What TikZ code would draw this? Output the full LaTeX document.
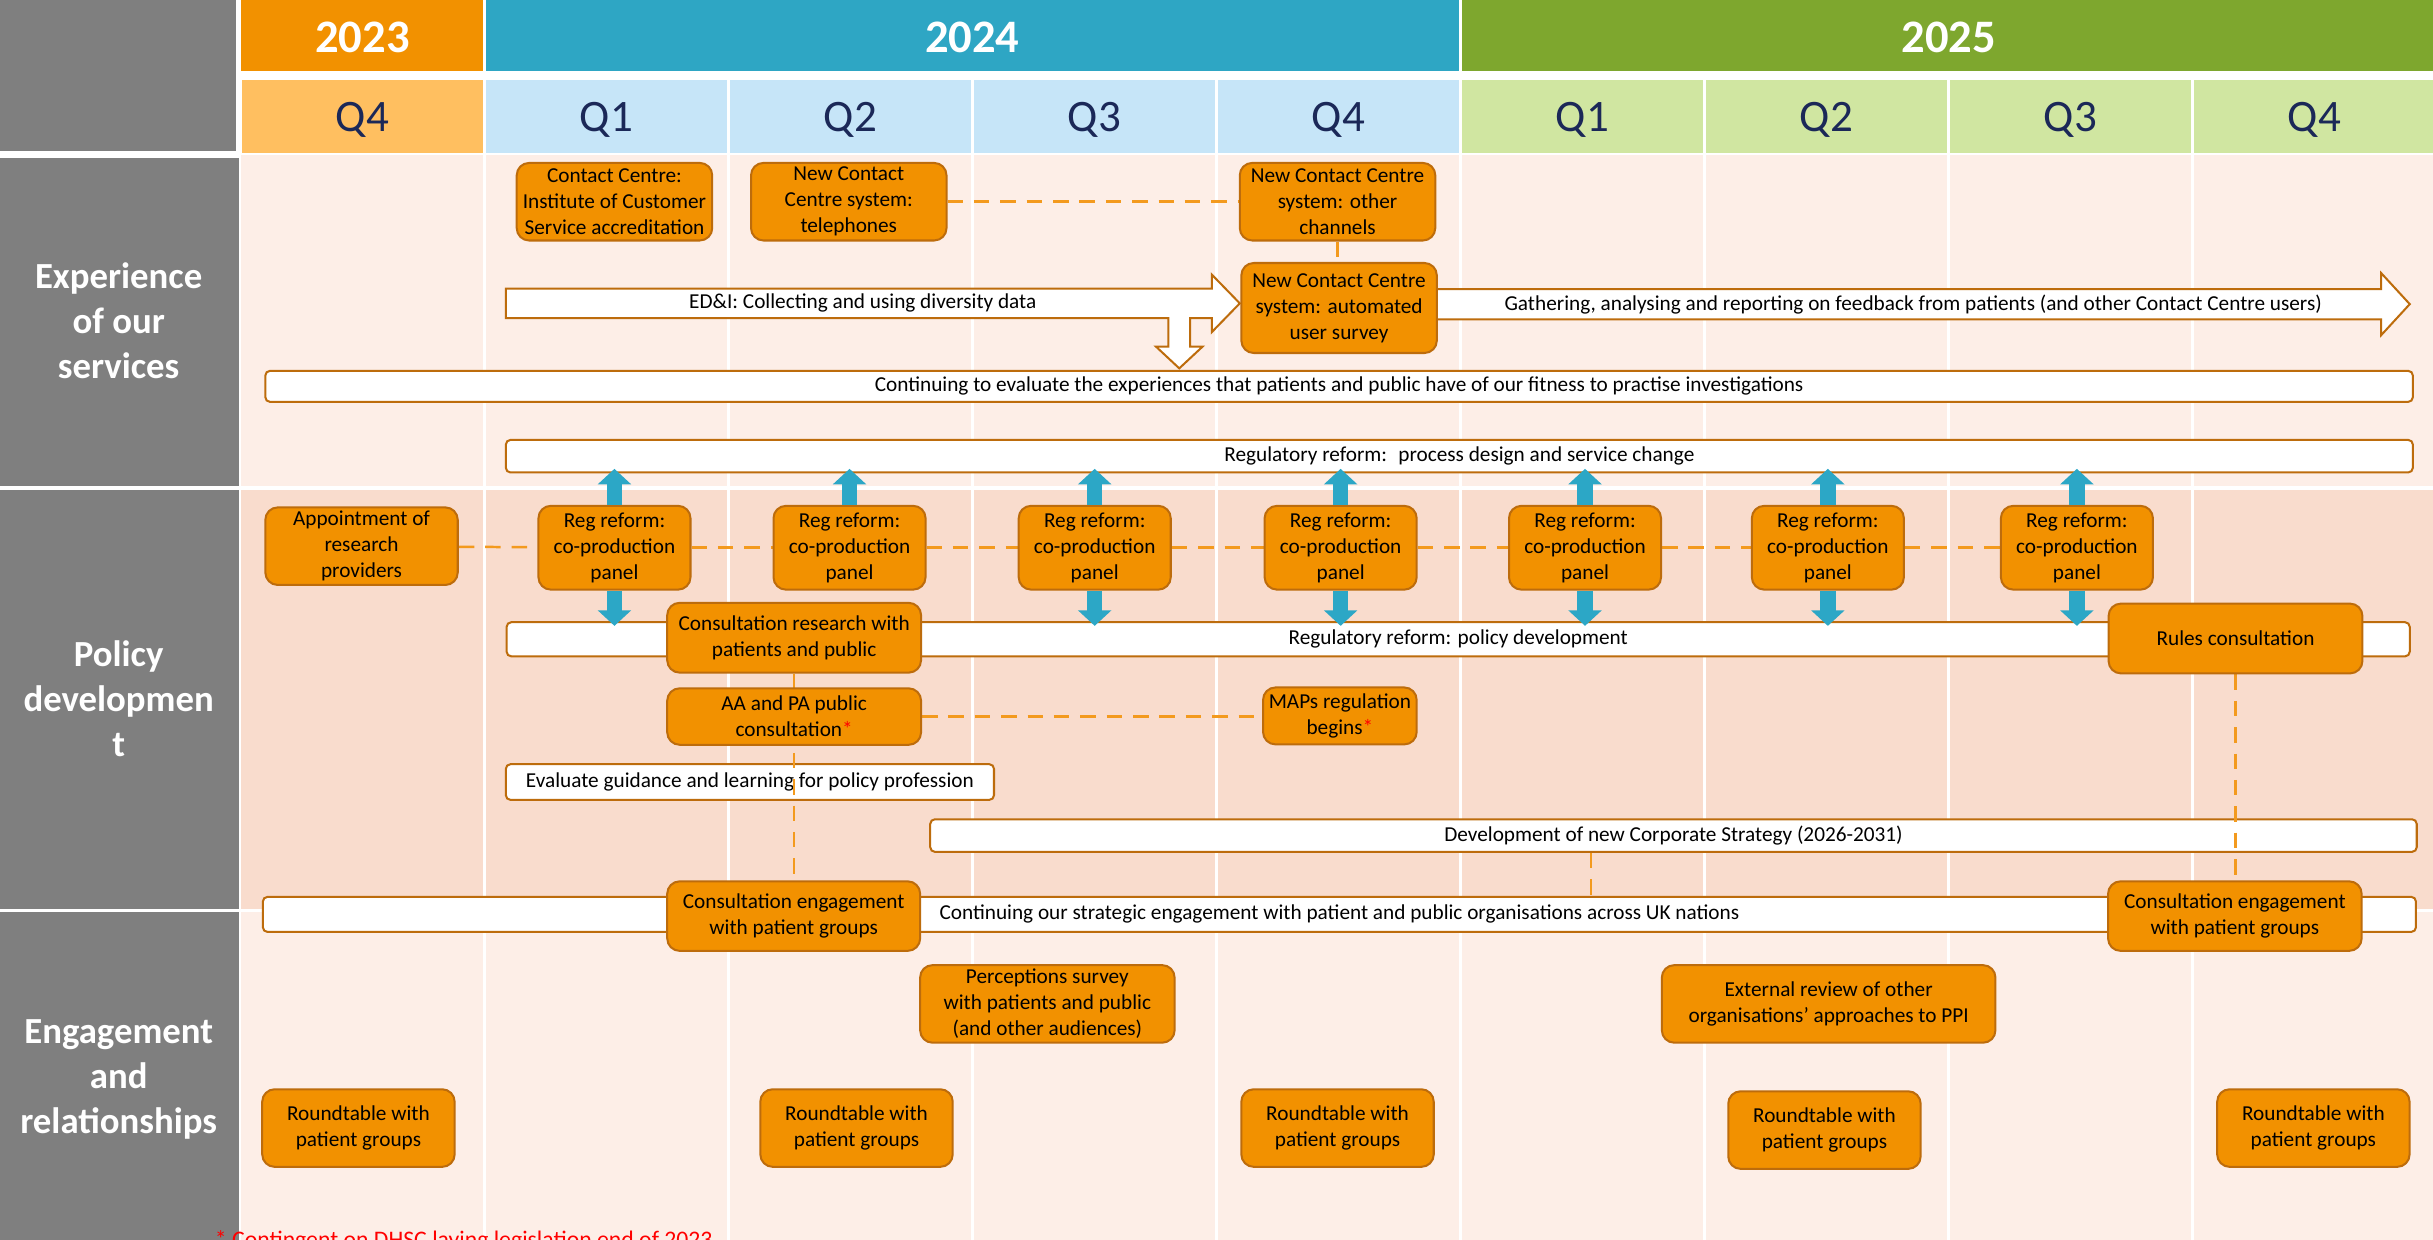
\documentclass[tikz,border=0pt]{standalone}
\usepackage{fontspec}
\setmainfont{Carlito}
\usetikzlibrary{arrows.meta}
\definecolor{boxorange}{HTML}{F29100}
\definecolor{boxedge}{HTML}{BD6C0C}
\definecolor{linkorange}{HTML}{F39A1E}
\definecolor{feedblue}{HTML}{2CA7C6}
\definecolor{labgray}{HTML}{7F7F7F}
\definecolor{y23}{HTML}{F29100}
\definecolor{y24}{HTML}{2EA6C4}
\definecolor{y25}{HTML}{7EA72E}
\definecolor{q23}{HTML}{FFBF60}
\definecolor{q24}{HTML}{C6E5F8}
\definecolor{q25}{HTML}{D0E6A1}
\definecolor{qnavy}{HTML}{1B2858}
\definecolor{lightband}{HTML}{FDEEE7}
\definecolor{darkband}{HTML}{F9DCCD}
\pgfdeclarelayer{bg}
\pgfdeclarelayer{bars}
\pgfdeclarelayer{links}
\pgfsetlayers{bg,bars,links,main}
\tikzset{
  boxfont/.style={font=\fontsize{13.7}{16.7}\selectfont},
  task/.style={boxfont,draw=boxedge,fill=boxorange,line width=1.3pt,rounded corners=8pt,align=center,inner sep=1pt},
  bar/.style={boxfont,draw=boxedge,fill=white,line width=1.3pt,rounded corners=3pt,inner sep=0pt},
  hollow/.style={draw=boxedge,fill=white,line width=1.3pt},
  link/.style={linkorange,line width=1.6pt,dash pattern=on 10pt off 7pt},
  feed/.style={feedblue,line width=10pt,-{Triangle[width=21pt,length=10pt]},shorten >=-3pt},
  rowlabel/.style={text=white,font=\fontsize{23.7}{29}\selectfont\bfseries,align=center},
  yearlabel/.style={text=white,font=\fontsize{30}{36}\selectfont\bfseries,anchor=base},
  qlabel/.style={text=qnavy,font=\fontsize{29}{34}\selectfont,anchor=base}
}
\begin{document}
\begin{tikzpicture}[x=1pt,y=-1pt]
  \useasboundingbox (0,0) rectangle (1568,799);
  \begin{pgfonlayer}{bg}
    \fill[white] (0,0) rectangle (1568,799);
    \fill[labgray] (0,0) rectangle (152,97);
    \fill[labgray] (0,102) rectangle (154,313.5);
    \fill[labgray] (0,315.5) rectangle (154,585.5);
    \fill[labgray] (0,587.5) rectangle (154,799);
    \fill[lightband] (155,100) rectangle (1568,313.5);
    \fill[darkband] (155,315.5) rectangle (1568,585.5);
    \fill[lightband] (155,587.5) rectangle (1568,799);
    \foreach \k in {1,...,8}
      \draw[white,line width=2pt] ({155+157.25*\k},100) -- ({155+157.25*\k},799);
    \fill[y23] (155,0) rectangle (311.25,46);
    \fill[y24] (313.25,0) rectangle (940.25,46);
    \fill[y25] (942.25,0) rectangle (1568,46);
    \foreach \k/\cell in {0/q23,1/q24,2/q24,3/q24,4/q24,5/q25,6/q25,7/q25,8/q25}
      \fill[\cell] ({156+157.25*\k},51.5) rectangle ({154.25+157.25*(\k+1)},98.5);
  \end{pgfonlayer}

  % header
  \node[yearlabel] (y2023) at (233.6,34) {2023};
  \node[yearlabel] (y2024) at (626.6,34) {2024};
  \node[yearlabel] (y2025) at (1256,34) {2025};
  \foreach \k/\q in {0/Q4,1/Q1,2/Q2,3/Q3,4/Q4,5/Q1,6/Q2,7/Q3,8/Q4}
    \node[qlabel] (q\k) at ({233.6+157.25*\k},85) {\q};

  % rows
  \node[rowlabel] (rowexp) at (76.5,206.5) {Experience\\of our\\services};
  \node[rowlabel] (rowpol) at (76.5,450.5) {Policy\\developmen\\t};
  \node[rowlabel] (roweng) at (76.5,696) {Engagement\\and\\relationships};

  \begin{pgfonlayer}{bars}
    \node[bar,minimum width=1384pt,minimum height=20pt] (evalexp) at (863,249) {Continuing to evaluate the experiences that patients and public have of our fitness to practise investigations};
    \node[bar,minimum width=1229pt,minimum height=21pt] (design) at (940.5,294) {Regulatory reform:~ process design and service change};
    \node[bar,minimum width=1226.5pt,minimum height=22pt] (poldev) at (939.75,412) {Regulatory reform: policy development};
    \node[bar,minimum width=314.6pt,minimum height=23pt] (guidance) at (483.3,504) {Evaluate guidance and learning for policy profession};
    \node[bar,minimum width=958pt,minimum height=21pt] (strategy) at (1078.5,538.5) {Development of new Corporate Strategy (2026-2031)};
    \node[bar,minimum width=1387.6pt,minimum height=22.6pt] (ukeng) at (863.2,589.3) {Continuing our strategic engagement with patient and public organisations across UK nations};
    \draw[hollow] (326,186) -- (781,186) -- (781,177) -- (799,195.5) -- (781,214) -- (781,205)
      -- (767,205) -- (767,223.4) -- (775,223.4) -- (760,237.4) -- (745,223.4) -- (753,223.4)
      -- (753,205) -- (326,205) -- cycle;
    \draw[hollow] (920,186.4) -- (1534.6,186.4) -- (1534.6,176) -- (1553,196) -- (1534.6,216)
      -- (1534.6,205.8) -- (920,205.8) -- cycle;
    \node[boxfont] (edi) at (556,195.5) {ED\&I: Collecting and using diversity data};
    \node[boxfont] (gather) at (1233,196) {Gathering, analysing and reporting on feedback from patients (and other Contact Centre users)};
  \end{pgfonlayer}

  % experience of our services
  \node[task,minimum width=126pt,minimum height=50pt] (icsa) at (396,130) {Contact Centre:\\Institute of Customer\\Service accreditation};
  \node[task,minimum width=126pt,minimum height=50pt] (phones) at (547,130) {New Contact\\Centre system:\\telephones};
  \node[task,minimum width=126pt,minimum height=50pt] (channels) at (862,130) {New Contact Centre\\system: other\\channels};
  \node[task,minimum width=126pt,minimum height=58pt] (survey) at (863,198.5) {New Contact Centre\\system: automated\\user survey};

  % policy development
  \node[task,minimum width=124pt,minimum height=50pt] (appoint) at (233,352) {Appointment of\\research\\providers};
  \foreach \x [count=\i] in {396,547.5,705.5,864,1021.5,1178,1338.5}
    \node[task,minimum width=98pt,minimum height=54pt] (rr\i) at (\x,353) {Reg reform:\\co-production\\panel};
  \node[task,minimum width=163.6pt,minimum height=45pt] (consres) at (511.8,411) {Consultation research with\\patients and public};
  \node[task,minimum width=163.6pt,minimum height=45pt] (rules) at (1440.7,411.5) {Rules consultation};
  \node[task,minimum width=163.6pt,minimum height=36.4pt] (aapa) at (511.8,461.8) {AA and PA public\\consultation{\color{red}*}};
  \node[task,minimum width=99pt,minimum height=36.7pt] (maps) at (863.5,461.4) {MAPs regulation\\begins{\color{red}*}};

  % engagement and relationships
  \node[task,minimum width=163pt,minimum height=44.8pt] (consengL) at (511.5,590.4) {Consultation engagement\\with patient groups};
  \node[task,minimum width=163.4pt,minimum height=44.8pt] (consengR) at (1440.3,590.4) {Consultation engagement\\with patient groups};
  \node[task,minimum width=164pt,minimum height=50pt] (percep) at (675,647) {Perceptions survey\\with patients and public\\(and other audiences)};
  \node[task,minimum width=215pt,minimum height=50pt] (extrev) at (1178.5,647) {External review of other\\organisations’ approaches to PPI};
  \foreach \x/\y [count=\i] in {231/727,552/727,862/727,1175.8/728.3,1490.9/727}
    \node[task,minimum width=124pt,minimum height=50pt] (rt\i) at (\x,\y) {Roundtable with\\patient groups};

  \begin{pgfonlayer}{links}
    \draw[link] (phones) -- (channels);
    \draw[link] (channels.south) -- (channels.south |- survey.north);
    \draw[link] (appoint) -- (rr1);
    \foreach \i [evaluate=\i as \j using int(\i+1)] in {1,...,6}
      \draw[link] (rr\i) -- (rr\j);
    \draw[link] (aapa.east) -- (aapa.east -| maps.west);
    \draw[link] (consres.south) -- (consres.south |- consengL.north);
    \draw[link] (rules.south) -- (rules.south |- consengR.north);
    \draw[link] ([xshift=-53pt]strategy.south) -- ([xshift=-53pt]strategy.south |- ukeng.north);
  \end{pgfonlayer}

  \foreach \i in {1,...,7}
    \draw[feed] (rr\i.north) -- (rr\i.north |- design.south);
  \foreach \i in {1,3,4,5,6,7}
    \draw[feed] (rr\i.south) -- (rr\i.south |- poldev.north);

  \node[text=red,font=\fontsize{15.3}{18}\selectfont,anchor=base west] (note) at (135,804) {* Contingent on DHSC laying legislation end of 2023};
\end{tikzpicture}
\end{document}
